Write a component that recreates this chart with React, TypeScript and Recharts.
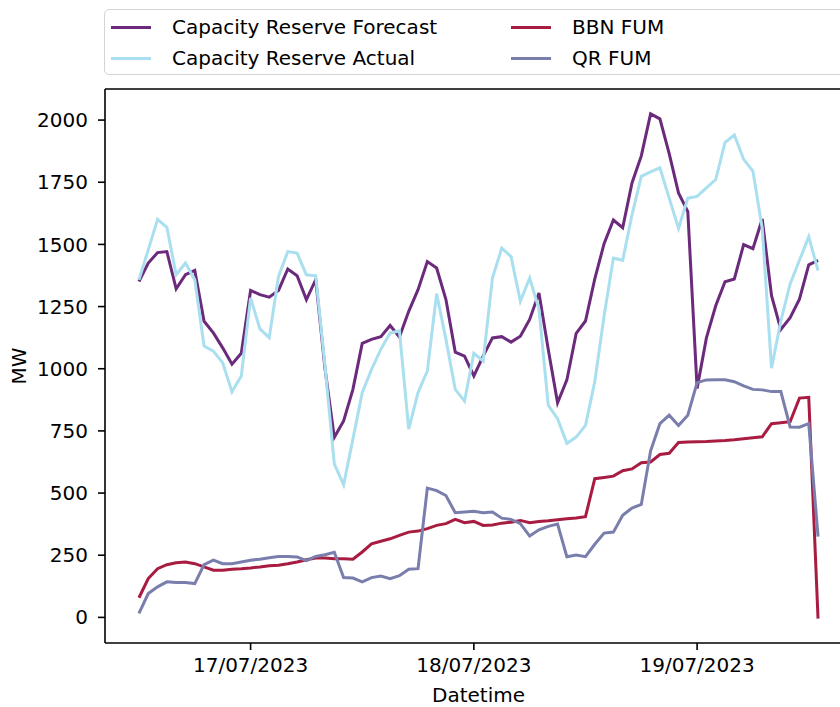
import React from "react";
import {
  LineChart,
  Line,
  XAxis,
  YAxis,
  Legend,
  ReferenceLine,
} from "recharts";

// hourly readings, 16/07/2023 12:00 -> 19/07/2023 13:00
const forecast = [
  1351, 1425, 1467, 1471, 1321, 1378, 1395, 1191, 1144, 1084, 1018, 1062, 1315, 1298, 1288,
  1315, 1401, 1374, 1278, 1358, 1000, 724, 790, 917, 1102, 1118, 1129, 1174, 1128, 1231,
  1318, 1431, 1405, 1278, 1067, 1051, 971, 1051, 1124, 1129, 1107, 1131, 1198, 1305, 1077,
  863, 955, 1142, 1192, 1361, 1503, 1598, 1567, 1747, 1856, 2025, 2005, 1865, 1707, 1632,
  921, 1124, 1253, 1350, 1361, 1499, 1483, 1602, 1294, 1158, 1205, 1280, 1418, 1436,
];

const actual = [
  1358, 1478, 1601, 1569, 1378, 1425, 1358, 1091, 1071, 1024, 907, 971, 1285, 1160, 1125,
  1371, 1471, 1465, 1378, 1374, 1011, 617, 533, 717, 904, 997, 1078, 1144, 1152, 757,
  904, 991, 1302, 1118, 917, 870, 1062, 1031, 1365, 1485, 1451, 1271, 1365, 1240, 853,
  799, 700, 725, 772, 948, 1212, 1445, 1436, 1619, 1774, 1792, 1808, 1686, 1564, 1686,
  1693, 1727, 1761, 1910, 1940, 1842, 1795, 1564, 1002, 1192, 1341, 1436, 1531, 1395,
];

const bbnFum = [
  79, 156, 196, 212, 220, 223, 216, 203, 190, 190, 194, 196, 199, 203, 208,
  210, 216, 223, 232, 239, 239, 236, 236, 234, 263, 296, 306, 316, 330, 343,
  347, 357, 370, 377, 394, 381, 386, 370, 372, 379, 383, 390, 381, 386, 389,
  393, 397, 400, 405, 558, 563, 568, 590, 597, 622, 625, 655, 660, 703, 705,
  706, 707, 709, 711, 714, 718, 722, 726, 779, 783, 787, 882, 885, -5,
];

const qrFum = [
  16, 96, 123, 143, 140, 140, 136, 212, 230, 216, 216, 223, 230, 234, 240,
  245, 245, 243, 228, 245, 252, 262, 160, 158, 143, 160, 166, 156, 168, 194,
  196, 520, 510, 490, 421, 424, 427, 421, 424, 399, 394, 377, 327, 352, 366,
  375, 244, 251, 244, 294, 339, 343, 411, 440, 454, 670, 779, 813, 772, 813,
  944, 955, 956, 956, 948, 931, 917, 915, 908, 908, 766, 765, 779, 325,
];

// x is hours since the first reading; midnight of each day sits at 12, 36, 60
const dayTicks = [12, 36, 60];
const dayLabels = ["17/07/2023", "18/07/2023", "19/07/2023"];
const yTicks = [0, 250, 500, 750, 1000, 1250, 1500, 1750, 2000];
const xDomain = [-3.65, 76.65];
const yDomain = [-103, 2125];

const series = [
  { key: "forecast", name: "Capacity Reserve Forecast", color: "#6b2a7b" },
  { key: "actual", name: "Capacity Reserve Actual", color: "#a9dfee" },
  { key: "bbn", name: "BBN FUM", color: "#a81c41" },
  { key: "qr", name: "QR FUM", color: "#797eac" },
];

const data = forecast.map((f, i) => ({
  hour: i,
  forecast: f,
  actual: actual[i],
  bbn: bbnFum[i],
  qr: qrFum[i],
}));

const font = "'DejaVu Sans', sans-serif";
const tickStyle = { fill: "#000", fontSize: 20, fontFamily: font };
const axisStroke = { stroke: "#000", strokeWidth: 1.6 };

const LegendBox = () => {
  const cols = [series.slice(0, 2), series.slice(2, 4)];
  return (
    <div
      style={{
        width: 760,
        height: 66,
        boxSizing: "border-box",
        border: "1.5px solid #d4d4d4",
        borderRadius: 5,
        background: "rgba(255,255,255,0.8)",
        fontFamily: font,
        fontSize: 20,
        color: "#000",
        position: "relative",
      }}
    >
      {cols.map((col, c) =>
        col.map((s, r) => (
          <div
            key={s.key}
            style={{
              position: "absolute",
              left: c === 0 ? 6 : 406,
              top: 5 + r * 31,
              display: "flex",
              alignItems: "center",
              height: 24,
              whiteSpace: "nowrap",
            }}
          >
            <span
              style={{
                display: "inline-block",
                width: 40,
                height: 3,
                background: s.color,
                marginRight: 21,
              }}
            />
            {s.name}
          </div>
        ))
      )}
    </div>
  );
};

export default function App() {
  return (
    <div
      style={{
        position: "fixed",
        left: 0,
        top: 0,
        width: 840,
        height: 707,
        overflow: "hidden",
        background: "#fff",
      }}
    >
      <LineChart
        width={870}
        height={707}
        data={data}
        margin={{ top: 89, right: 18, bottom: 0, left: 0 }}
      >
        <XAxis
          dataKey="hour"
          type="number"
          domain={xDomain}
          ticks={dayTicks}
          tickFormatter={(v) => dayLabels[dayTicks.indexOf(v)] ?? ""}
          height={64}
          tick={tickStyle}
          tickSize={7}
          tickMargin={8}
          axisLine={axisStroke}
          tickLine={axisStroke}
          allowDataOverflow
          label={{
            value: "Datetime",
            position: "insideBottom",
            offset: 5,
            style: { fill: "#000", fontSize: 20, fontFamily: font },
          }}
        />
        <YAxis
          type="number"
          domain={yDomain}
          ticks={yTicks}
          width={105}
          tick={tickStyle}
          tickSize={7}
          tickMargin={10}
          axisLine={axisStroke}
          tickLine={axisStroke}
          allowDataOverflow
          label={{
            value: "MW",
            angle: -90,
            position: "insideLeft",
            offset: 19,
            style: { fill: "#000", fontSize: 20, fontFamily: font, textAnchor: "middle" },
          }}
        />
        {/* top spine */}
        <ReferenceLine y={yDomain[1]} stroke="#000" strokeWidth={1.6} />
        <Legend
          layout="horizontal"
          verticalAlign="middle"
          align="center"
          wrapperStyle={{ top: 9, left: 104, width: 760, height: 66 }}
          content={() => <LegendBox />}
        />
        {series.map((s) => (
          <Line
            key={s.key}
            type="linear"
            dataKey={s.key}
            name={s.name}
            stroke={s.color}
            strokeWidth={3}
            dot={false}
            activeDot={false}
            isAnimationActive={false}
          />
        ))}
      </LineChart>
    </div>
  );
}
